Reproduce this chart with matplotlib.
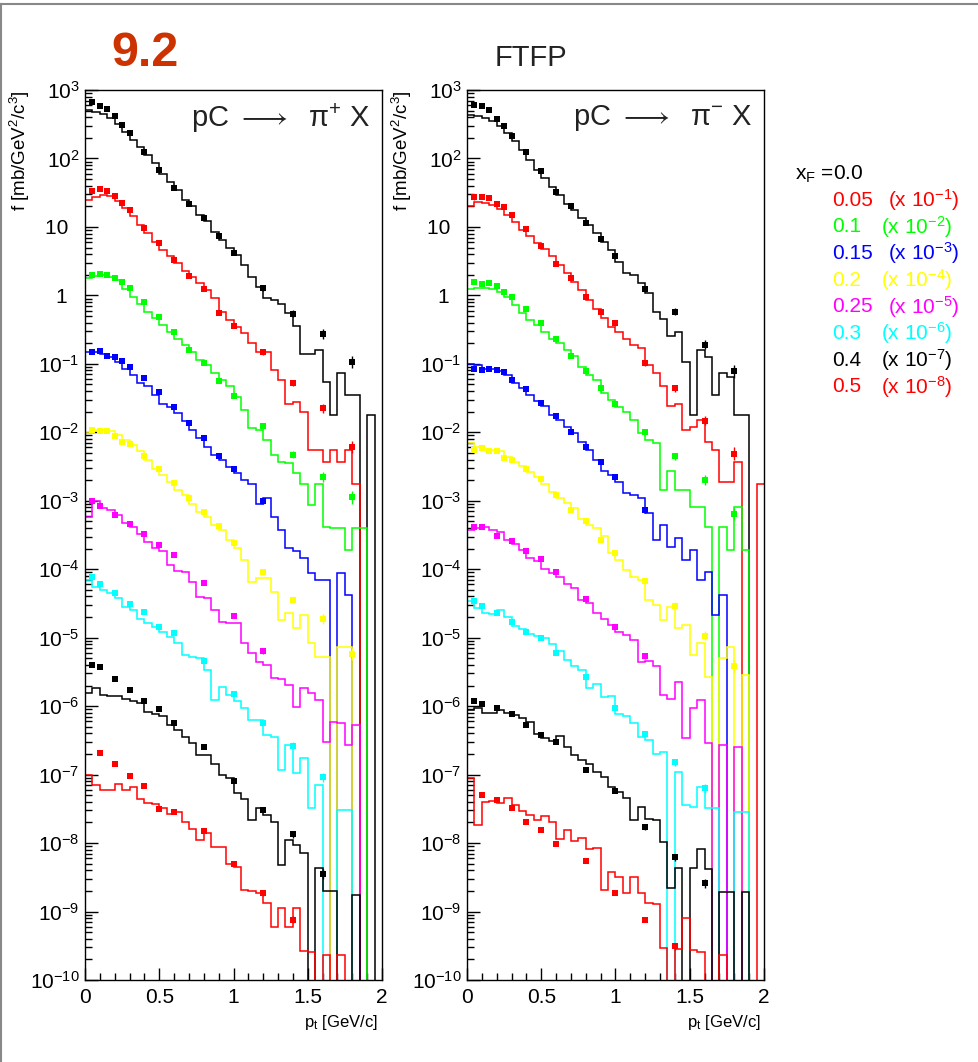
import numpy as np
import matplotlib
matplotlib.use("Agg")
import matplotlib.pyplot as plt
from matplotlib.ticker import FixedLocator, FuncFormatter
from matplotlib.lines import Line2D

plt.rcParams['font.family'] = ['Liberation Sans', 'DejaVu Sans']
plt.rcParams['mathtext.fontset'] = 'custom'
plt.rcParams['mathtext.rm'] = 'Liberation Sans'
plt.rcParams['mathtext.it'] = 'Liberation Sans:italic'
plt.rcParams['mathtext.bf'] = 'Liberation Sans:bold'
plt.rcParams['mathtext.default'] = 'regular'

# ========= DATA (log10 of f, already scaled by the legend factors) =========
Z = None  # empty MC bin

xf_labels = ['0.0', '0.05', '0.1', '0.15', '0.2', '0.25', '0.3', '0.4', '0.5']
scale_exp = [0, -1, -2, -3, -4, -5, -6, -7, -8]
colors = ['black', '#ff0000', '#00ff00', '#0000ff', '#ffff00', '#ff00ff', '#00ffff', 'black', '#ff0000']

bin_edges = np.linspace(0, 2, 41)

pt_full = [0.05, 0.1, 0.15, 0.2, 0.25, 0.3, 0.4, 0.5, 0.6, 0.7, 0.8, 0.9, 1.0, 1.2, 1.4, 1.6, 1.8]
pt_b = [0.05, 0.1, 0.15, 0.2, 0.25, 0.3, 0.4, 0.5, 0.6, 0.7, 0.8, 0.9, 1.0, 1.2]
pt_m = [0.05, 0.1, 0.2, 0.3, 0.4, 0.5, 0.6, 0.8, 1.0, 1.2]
pt_c = [0.05, 0.1, 0.2, 0.3, 0.4, 0.5, 0.6, 0.8, 1.0, 1.2, 1.4, 1.6]
pt_r = [0.1, 0.2, 0.3, 0.4, 0.5, 0.6, 0.8, 1.0, 1.2, 1.4]

# error size (dex) by pt
err_pt = [0.05, 0.1, 0.15, 0.2, 0.25, 0.3, 0.4, 0.5, 0.6, 0.7, 0.8, 0.9, 1.0, 1.2, 1.4, 1.6, 1.8]
err_dex = [0.03, 0.03, 0.02, 0.02, 0.02, 0.02, 0.02, 0.02, 0.02, 0.02, 0.02, 0.03, 0.03, 0.04, 0.05, 0.07, 0.09]

# ---- pC -> pi+ X : data points
pip_pts = [pt_full, pt_full, pt_full, pt_b, pt_full, pt_m, pt_c, pt_c, pt_r]
pip_data = [
    [2.82, 2.77, 2.72, 2.62, 2.49, 2.37, 2.09, 1.83, 1.57, 1.33, 1.13, 0.87, 0.62, 0.11, -0.27, -0.56, -0.97],
    [1.53, 1.55, 1.52, 1.45, 1.35, 1.25, 0.99, 0.76, 0.52, 0.28, 0.09, -0.25, -0.44, -0.83, -1.28, -1.65, -2.21],
    [0.30, 0.31, 0.30, 0.26, 0.20, 0.11, -0.10, -0.31, -0.53, -0.80, -0.99, -1.25, -1.47, -1.91, -2.33, -2.65, -2.95],
    [-0.83, -0.81, -0.88, -0.90, -0.96, -1.04, -1.20, -1.41, -1.63, -1.86, -2.08, -2.35, -2.53, -3.01],
    [-1.96, -1.98, -1.98, -2.06, -2.14, -2.17, -2.35, -2.53, -2.74, -2.96, -3.17, -3.37, -3.62, -4.04, -4.45, -4.73, -5.24],
    [-3.01, -3.08, -3.21, -3.34, -3.49, -3.64, -3.79, -4.20, -4.68, -5.20],
    [-4.11, -4.21, -4.34, -4.51, -4.62, -4.84, -4.93, -5.34, -5.82, -6.24, -6.58, -7.04],
    [-5.40, -5.43, -5.60, -5.77, -5.92, -6.04, -6.24, -6.60, -7.09, -7.51, -7.87, -8.45],
    [-6.69, -6.85, -7.02, -7.16, -7.50, -7.55, -7.83, -8.31, -8.73, -9.12],
]

# ---- pC -> pi+ X : FTFP histograms (40 bins of 0.05)
pip_mc = [
    [2.71, 2.68, 2.65, 2.59, 2.50, 2.39, 2.27, 2.17, 2.05, 1.93, 1.78, 1.66, 1.54, 1.39, 1.30, 1.17, 1.08, 0.93, 0.81, 0.69,
     0.59, 0.44, 0.27, 0.12, -0.04, -0.07, -0.12, -0.26, -0.45, -0.85, -0.85, -0.80, -1.26, -1.75, -1.14, -1.45, -1.45, Z, -1.75, Z],
    [1.39, 1.43, 1.47, 1.45, 1.38, 1.27, 1.16, 1.03, 0.91, 0.78, 0.66, 0.57, 0.47, 0.35, 0.27, 0.18, 0.08, -0.04, -0.24, -0.36,
     -0.46, -0.55, -0.70, -0.82, -0.83, -1.09, -1.24, -1.58, -1.55, -1.70, -2.26, -2.26, -2.43, -2.26, -2.43, -2.26, -2.75, Z, Z, Z],
    [0.25, 0.29, 0.30, 0.27, 0.22, 0.10, -0.02, -0.12, -0.24, -0.33, -0.43, -0.53, -0.63, -0.72, -0.82, -0.94, -1.02, -1.14, -1.24, -1.33,
     -1.48, -1.67, -1.94, -1.97, -2.11, -2.33, -2.43, -2.45, -2.60, -2.75, -3.06, -2.75, -3.38, -3.40, -3.40, -3.72, -3.40, -3.40, Z, Z],
    [-0.82, -0.82, -0.85, -0.90, -0.97, -1.07, -1.16, -1.28, -1.33, -1.46, -1.58, -1.63, -1.72, -1.84, -1.97, -2.09, -2.21, -2.33, -2.40, -2.51,
     -2.60, -2.70, -2.75, -3.04, -2.96, -3.23, -3.43, -3.69, -3.74, -3.84, -4.06, -4.16, -4.16, Z, -4.05, -4.38, Z, Z, Z, Z],
    [-1.99, -1.97, -1.97, -1.98, -2.04, -2.11, -2.19, -2.28, -2.40, -2.53, -2.62, -2.72, -2.84, -2.92, -3.04, -3.16, -3.23, -3.35, -3.43, -3.57,
     -3.69, -3.86, -4.18, -4.13, -4.13, -4.33, -4.74, -4.64, -4.86, -4.67, -5.08, -5.28, -5.28, Z, -5.13, -5.13, Z, Z, Z, Z],
    [-3.23, -3.01, -3.11, -3.13, -3.21, -3.33, -3.38, -3.48, -3.60, -3.69, -3.74, -3.94, -4.02, -4.04, -4.18, -4.40, -4.42, -4.60, -4.77, -4.79,
     -4.79, -5.08, -5.23, -5.35, -5.40, -5.59, -5.60, -5.69, -6.01, -5.74, -5.81, -5.91, -6.52, -6.23, -6.25, -6.57, -6.27, Z, Z, Z],
    [-4.16, -4.26, -4.30, -4.35, -4.42, -4.55, -4.60, -4.72, -4.79, -4.84, -4.91, -4.99, -5.08, -5.25, -5.28, -5.30, -5.47, -5.91, -5.72, -5.84,
     -5.93, -6.03, -6.20, -6.20, -6.42, -6.45, -6.93, -6.57, -6.98, -6.76, -7.49, -7.15, Z, Z, -7.52, -7.52, Z, Z, Z, Z],
    [-5.81, -5.74, -5.83, -5.85, -5.85, -5.89, -5.93, -5.96, -6.09, -6.12, -6.15, -6.28, -6.35, -6.45, -6.54, -6.71, -6.72, -6.84, -7.01, -7.05,
     -7.27, -7.35, -7.66, -7.49, -7.59, -7.69, -8.32, -7.96, -8.03, -8.15, Z, -8.37, -8.70, -8.70, Z, Z, -8.76, Z, Z, Z],
    [-7.01, -7.15, -7.23, -7.23, -7.13, -7.23, -7.18, -7.35, -7.42, -7.43, -7.49, -7.58, -7.54, -7.69, -7.79, -7.95, -7.86, -8.05, -8.05, -8.30,
     -8.35, -8.68, -8.70, -8.73, -8.88, -9.22, -8.95, -9.22, -8.95, -9.58, -9.59, Z, -9.63, Z, -9.63, Z, Z, Z, Z, Z],
]

# ---- pC -> pi- X : data points
pim_pts = [pt_full, pt_full, pt_full, pt_b, pt_full, pt_m, pt_c, pt_c, pt_r]
pim_data = [
    [2.78, 2.77, 2.71, 2.57, 2.48, 2.33, 2.10, 1.81, 1.51, 1.31, 1.05, 0.83, 0.58, 0.10, -0.24, -0.72, -1.11],
    [1.43, 1.44, 1.42, 1.34, 1.29, 1.18, 0.97, 0.72, 0.46, 0.25, -0.03, -0.24, -0.41, -0.99, -1.36, -1.83, -2.31],
    [0.19, 0.17, 0.18, 0.13, 0.05, -0.02, -0.20, -0.41, -0.63, -0.88, -1.10, -1.36, -1.58, -2.00, -2.35, -2.70, -3.19],
    [-1.07, -1.09, -1.08, -1.09, -1.12, -1.24, -1.37, -1.57, -1.76, -1.99, -2.22, -2.44, -2.65, -3.14],
    [-2.26, -2.23, -2.28, -2.27, -2.37, -2.40, -2.54, -2.68, -2.92, -3.13, -3.29, -3.58, -3.77, -4.17, -4.53, -4.97, -5.42],
    [-3.39, -3.38, -3.51, -3.59, -3.74, -3.85, -4.04, -4.44, -4.84, -5.27],
    [-4.47, -4.54, -4.64, -4.77, -4.91, -5.01, -5.22, -5.58, -6.02, -6.41, -6.82, -7.20],
    [-5.92, -5.97, -6.02, -6.12, -6.28, -6.42, -6.52, -6.93, -7.24, -7.77, -8.21, -8.59],
    [-7.30, -7.37, -7.49, -7.69, -7.81, -8.02, -8.26, -8.73, -9.12, -9.51],
]

# ---- pC -> pi- X : FTFP histograms
pim_mc = [
    [2.64, 2.62, 2.59, 2.54, 2.48, 2.37, 2.26, 2.12, 1.98, 1.83, 1.71, 1.59, 1.47, 1.34, 1.25, 1.13, 1.03, 0.91, 0.78, 0.66,
     0.49, 0.32, 0.30, 0.18, 0.03, -0.24, -0.34, -0.60, -0.53, -0.97, -1.75, -0.80, -0.90, -1.45, -1.14, -1.19, -1.75, -1.75, Z, Z],
    [1.31, 1.36, 1.35, 1.32, 1.26, 1.17, 1.07, 0.95, 0.87, 0.76, 0.68, 0.57, 0.44, 0.32, 0.20, 0.08, -0.07, -0.20, -0.33, -0.46,
     -0.53, -0.63, -0.72, -0.77, -1.02, -1.14, -1.33, -1.62, -1.59, -1.96, -1.92, -1.82, -2.14, -2.26, -2.72, -2.72, -2.43, Z, Z, -2.75],
    [0.09, 0.11, 0.11, 0.10, 0.055, -0.02, -0.14, -0.26, -0.36, -0.43, -0.53, -0.63, -0.70, -0.80, -0.89, -1.04, -1.16, -1.24, -1.43, -1.53,
     -1.63, -1.70, -1.82, -2.01, -2.11, -2.16, -2.84, -2.57, -2.84, -2.84, -3.09, -3.09, -3.38, Z, -3.38, -3.72, -3.09, -3.72, Z, Z],
    [-1.00, -1.02, -1.08, -1.08, -1.11, -1.17, -1.28, -1.36, -1.46, -1.54, -1.62, -1.75, -1.82, -1.92, -2.01, -2.14, -2.26, -2.40, -2.56, -2.62,
     -2.72, -2.89, -2.92, -2.96, -3.18, -3.57, -3.35, -3.67, -3.55, -3.87, -3.72, -4.16, -4.04, -4.67, -4.38, Z, Z, Z, Z, Z],
    [-2.16, -2.22, -2.25, -2.26, -2.28, -2.36, -2.43, -2.49, -2.58, -2.65, -2.75, -2.87, -2.96, -3.03, -3.11, -3.26, -3.35, -3.40, -3.52, -3.77,
     -3.86, -4.01, -4.11, -4.16, -4.45, -4.52, -4.74, -4.55, -4.86, -4.81, -5.25, -5.08, -5.57, Z, -5.29, -5.13, Z, -5.55, Z, Z],
    [-3.43, -3.40, -3.38, -3.43, -3.45, -3.58, -3.63, -3.72, -3.83, -3.88, -3.99, -4.05, -4.12, -4.22, -4.28, -4.45, -4.50, -4.64, -4.72, -4.81,
     -4.91, -4.96, -5.03, -5.35, -5.34, -5.42, -5.84, -5.89, -5.64, -6.47, -6.03, -5.91, -6.54, Z, -6.57, Z, -6.59, Z, Z, Z],
    [-4.47, -4.57, -4.64, -4.65, -4.60, -4.70, -4.83, -4.88, -4.95, -4.97, -5.00, -5.09, -5.20, -5.32, -5.41, -5.47, -5.73, -5.67, -5.86, -5.85,
     -6.11, -6.14, -6.25, -6.45, -6.49, -6.70, -6.67, Z, -6.96, -7.44, -7.47, -7.18, -7.49, -7.49, Z, Z, -7.54, -7.54, Z, Z],
    [-6.06, -6.02, -6.10, -6.10, -6.05, -6.10, -6.13, -6.18, -6.23, -6.40, -6.47, -6.51, -6.43, -6.59, -6.72, -6.79, -6.84, -6.96, -7.04, -7.18,
     -7.26, -7.34, -7.66, -7.47, -7.65, -7.66, -7.98, -8.66, -8.36, Z, -8.37, -8.08, -8.38, Z, -8.71, -8.71, Z, -8.72, Z, Z],
    [-7.05, -7.74, -7.40, -7.39, -7.42, -7.34, -7.44, -7.53, -7.59, -7.66, -7.60, -7.69, -7.94, -7.81, -7.97, -7.93, -8.08, -8.07, -8.68, -8.42,
     -8.49, -8.73, -8.50, -8.73, -8.87, -8.89, -9.53, Z, -9.54, -9.09, -9.56, -9.59, Z, Z, -9.63, Z, Z, Z, Z, Z],
]


def to_lin(vals):
    return np.array([10.0 ** v if v is not None else 1e-30 for v in vals])


def ytick_label(v, pos):
    # ROOT keeps the "10" bases aligned, exponents hang to the right
    e = int(round(np.log10(v)))
    if e == 0:
        return '1  '
    if e == 1:
        return '10  '
    return r'$10^{%d}$' % e


def draw_panel(ax, pts, data, mc, title):
    for i in range(len(data)):
        c = colors[i]
        ax.stairs(to_lin(mc[i]), bin_edges, color=c, lw=1.1, baseline=None, zorder=2)
        x = np.array(pts[i])
        y = to_lin(data[i])
        e = np.array([err_dex[err_pt.index(p)] for p in pts[i]])
        lo = y - y * 10 ** (-e)
        hi = y * 10 ** e - y
        ax.errorbar(x, y, yerr=[lo, hi], fmt='s', color=c, ms=3.7, mew=0,
                    elinewidth=1.0, capsize=0, zorder=3)

    ax.set_yscale('log')
    ax.set_xlim(0, 2)
    ax.set_ylim(1e-10, 1e3)
    ax.yaxis.set_major_locator(FixedLocator([10.0 ** k for k in range(-10, 4)]))
    ax.yaxis.set_minor_locator(FixedLocator([m * 10.0 ** k for k in range(-10, 3) for m in range(2, 10)]))
    ax.yaxis.set_major_formatter(FuncFormatter(ytick_label))
    ax.xaxis.set_major_locator(FixedLocator([0, 0.5, 1, 1.5, 2]))
    ax.xaxis.set_minor_locator(FixedLocator(np.arange(0.1, 2.0, 0.1)))
    ax.xaxis.set_major_formatter(FuncFormatter(lambda v, p: '%g' % v))
    ax.tick_params(which='both', direction='in', top=False, right=False, width=1, color='black')
    ax.tick_params(which='major', length=9, labelsize=15)
    ax.tick_params(axis='y', which='major', pad=4)
    ax.tick_params(axis='x', which='major', pad=6)
    ax.tick_params(which='minor', length=5)
    for s in ax.spines.values():
        s.set_linewidth(1.0)
    ax.text(0.96, 0.968, title, transform=ax.transAxes, ha='right', va='center',
            fontsize=21, color='#222222')


fig = plt.figure(figsize=(9.79, 10.62), dpi=100)
W, H = 979.0, 1062.0

axL = fig.add_axes([85 / W, 1 - 980 / H, 297 / W, 890 / H])
axR = fig.add_axes([467 / W, 1 - 980 / H, 297 / W, 890 / H])

draw_panel(axL, pip_pts, pip_data, pip_mc, r'pC $\longrightarrow$  $\pi^{+}$ X')
draw_panel(axR, pim_pts, pim_data, pim_mc, r'pC $\longrightarrow$  $\pi^{-}$ X')

# axis titles
for x0 in (20, 402):
    fig.text(x0 / W, 1 - 90 / H, r'f [mb/GeV$^{2}$/c$^{3}$]', rotation=90,
             ha='center', va='top', fontsize=13.5)
for x1 in (378, 761):
    fig.text(x1 / W, 1 - 1022 / H, r'p$_{t}$ [GeV/c]', ha='right', va='center', fontsize=12)

# headings
fig.text(145 / W, 1 - 54 / H, '9.2', ha='center', va='center', fontsize=35,
         fontweight='bold', color='#cc3300')
fig.text(531 / W, 1 - 58 / H, 'FTFP', ha='center', va='center', fontsize=21, color='#222222')

# legend block
fig.text(795 / W, 1 - 174 / H, r'x$_{F}$ =0.0', ha='left', va='center', fontsize=15, color='black')
for i in range(1, len(xf_labels)):
    yy = 1 - (200 + (i - 1) * 26.7) / H
    fig.text(832 / W, yy, xf_labels[i], ha='left', va='center', fontsize=15, color=colors[i])
    xp = 888 if len(xf_labels[i]) == 4 else 881
    fig.text(xp / W, yy, r'(x 10$^{%d}$)' % scale_exp[i], ha='left', va='center',
             fontsize=15, color=colors[i])

# outer frame
fig.add_artist(Line2D([0, 1], [1 - 4 / H, 1 - 4 / H], transform=fig.transFigure, color='#888888', lw=1.5))
fig.add_artist(Line2D([1.5 / W, 1.5 / W], [0, 1 - 4 / H], transform=fig.transFigure, color='#888888', lw=1.5))

fig.savefig('out.png', dpi=100)
